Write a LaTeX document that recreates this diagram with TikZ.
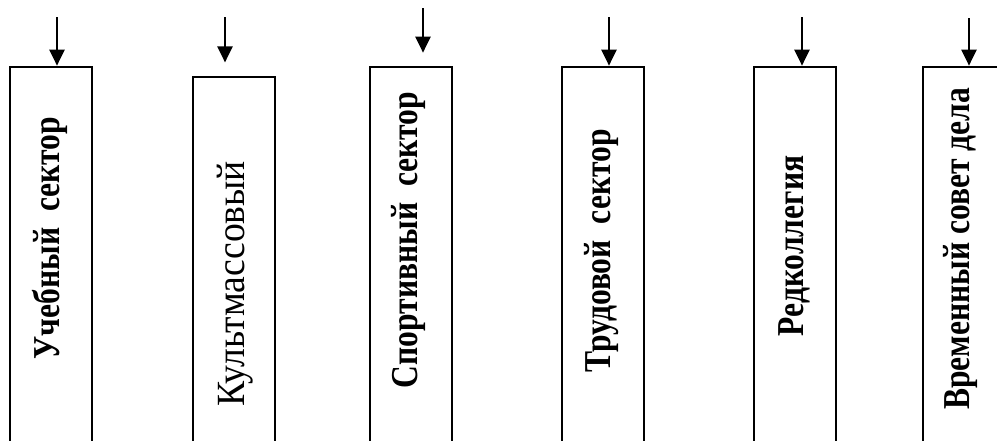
\documentclass[tikz,border=0pt]{standalone}
\usepackage{fontspec}
\setmainfont{Liberation Serif}
\newfontfamily\boxfont[FakeStretch=0.83]{Liberation Serif}
\newfontfamily\plainboxfont[FakeStretch=0.94]{Liberation Serif}
\usetikzlibrary{positioning,arrows.meta}

\begin{document}
\begin{tikzpicture}[x=0.5pt,y=-0.5pt,
  sectorbox/.style={draw,line width=1.35pt,minimum width=41pt,minimum height=196pt,inner sep=0pt},
  thinbox/.style={sectorbox,line width=0.6pt},
  sectortext/.style={rotate=90,font=\boxfont\fontsize{19}{19}\selectfont\bfseries,inner sep=0pt},
  feed/.style={line width=1.1pt,-{Triangle[width=7.5pt,length=8pt]}}]
\clip (0,0) rectangle (997,440);
\useasboundingbox (0,0) rectangle (997,440);

\node[sectorbox](s1) at (51,263) {};
\node[thinbox](s2) at (234,273) {};
\node[sectorbox](s3) at (411,263) {};
\node[sectorbox](s4) at (603,263) {};
\node[sectorbox](s5) at (795,263) {};
\node[sectorbox](s6) at (964,263) {};

\node[sectortext](n1) at (50,238) {Учебный\ \ сектор};
\node[sectortext,font=\plainboxfont\fontsize{20}{20}\selectfont](n2) at (235,284) {Культмассовый};
\node[sectortext](n3) at (408,240) {Спортивный\ \ сектор};
\node[sectortext](n4) at (602,251) {Трудовой\ \ сектор};
\node[sectortext](n5) at (794,246) {Редколлегия};
\node[sectortext](n6) at (960,249) {Временный совет дела};

\coordinate (t1) at (57,17);
\coordinate (t2) at (225,17);
\coordinate (t3) at (423,8);
\coordinate (t4) at (609,17);
\coordinate (t5) at (802,17);
\coordinate (t6) at (969,18);

\draw[feed] (t1) -- (t1 |- s1.north);
\draw[feed,shorten >=7pt] (t2) -- (t2 |- s2.north);
\draw[feed,shorten >=6.5pt] (t3) -- (t3 |- s3.north);
\draw[feed] (t4) -- (t4 |- s4.north);
\draw[feed] (t5) -- (t5 |- s5.north);
\draw[feed] (t6) -- (t6 |- s6.north);
\end{tikzpicture}
\end{document}
